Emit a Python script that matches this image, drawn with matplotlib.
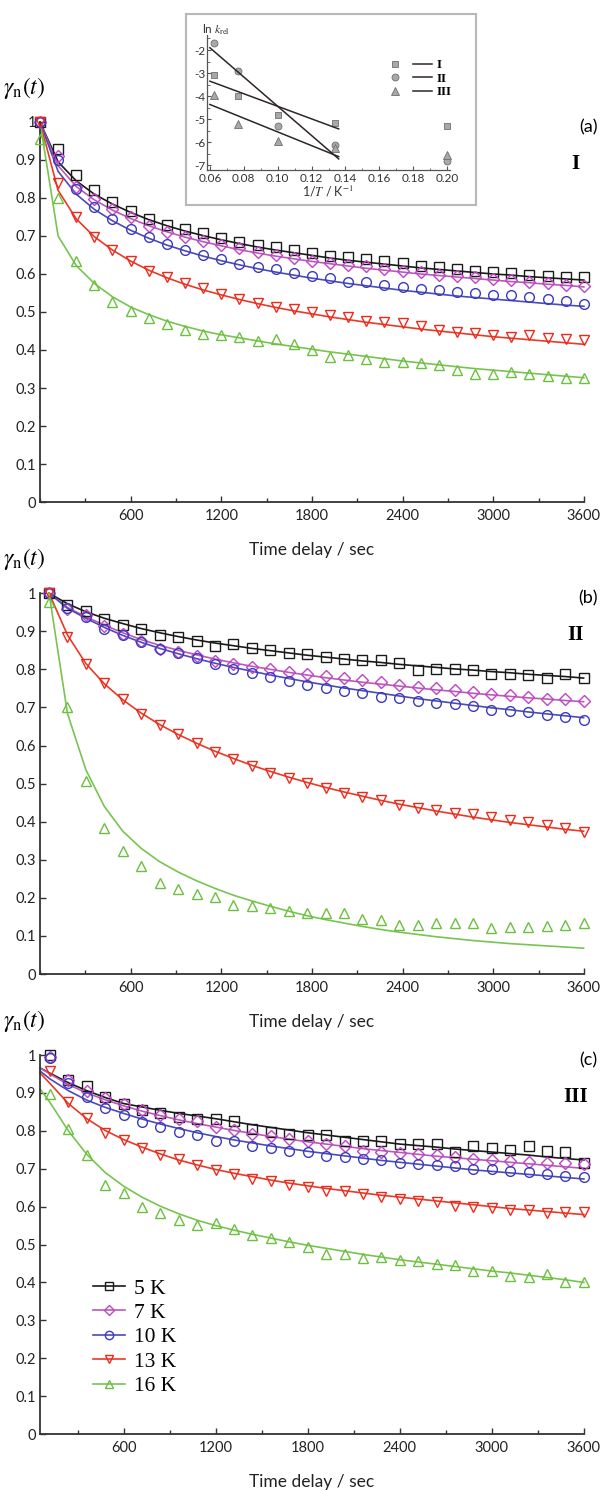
import matplotlib
matplotlib.use("Agg")
import matplotlib.pyplot as plt
from matplotlib.lines import Line2D
from matplotlib.legend_handler import HandlerTuple

plt.rcParams['font.family'] = ['Lato', 'DejaVu Sans']
plt.rcParams['mathtext.fontset'] = 'stix'
plt.rcParams['axes.unicode_minus'] = False

# ---------------- data ----------------
labels = ['5 K', '7 K', '10 K', '13 K', '16 K']
markers = ['s', 'D', 'o', 'v', '^']
mcolors = ['#1a1a1a', '#c244c6', '#3a3ac0', '#ec2a1a', '#6cc040']
lcolors = ['#1a1a1a', '#b85ab8', '#4a4ab8', '#e83a28', '#78c450']

# panel (a): sample times 0..3600 s every 120 s
t_a = [0, 120, 240, 360, 480, 600, 720, 840, 960, 1080, 1200, 1320, 1440, 1560, 1680, 1800,
       1920, 2040, 2160, 2280, 2400, 2520, 2640, 2760, 2880, 3000, 3120, 3240, 3360, 3480, 3600]
a_5K = [1.0, 0.93, 0.86, 0.82, 0.79, 0.765, 0.745, 0.73, 0.718, 0.707, 0.695, 0.685, 0.677, 0.67, 0.663, 0.655,
        0.648, 0.644, 0.64, 0.635, 0.63, 0.62, 0.618, 0.613, 0.609, 0.605, 0.603, 0.598, 0.594, 0.593, 0.592]
a_7K = [1.0, 0.91, 0.83, 0.797, 0.77, 0.749, 0.727, 0.711, 0.698, 0.688, 0.676, 0.668, 0.657, 0.65, 0.641, 0.635,
        0.629, 0.624, 0.62, 0.614, 0.609, 0.605, 0.598, 0.596, 0.592, 0.587, 0.583, 0.58, 0.577, 0.572, 0.568]
a_10K = [1.0, 0.90, 0.823, 0.777, 0.745, 0.718, 0.697, 0.679, 0.663, 0.65, 0.64, 0.627, 0.618, 0.614, 0.603, 0.596,
         0.589, 0.58, 0.579, 0.57, 0.567, 0.561, 0.557, 0.552, 0.55, 0.546, 0.544, 0.539, 0.535, 0.53, 0.522]
a_13K = [1.0, 0.84, 0.749, 0.697, 0.664, 0.635, 0.607, 0.592, 0.576, 0.563, 0.548, 0.535, 0.524, 0.513, 0.509, 0.5,
         0.491, 0.487, 0.476, 0.474, 0.47, 0.463, 0.452, 0.448, 0.445, 0.439, 0.435, 0.439, 0.432, 0.43, 0.426]
a_16K = [0.955, 0.80, 0.635, 0.572, 0.526, 0.502, 0.483, 0.469, 0.452, 0.443, 0.439, 0.434, 0.423, 0.43, 0.417, 0.40,
         0.382, 0.386, 0.376, 0.369, 0.369, 0.365, 0.36, 0.347, 0.338, 0.337, 0.343, 0.336, 0.332, 0.327, 0.327]
# fitted curves for (a), same times
a_5K_fit = [1.0, 0.895, 0.845, 0.81, 0.784, 0.762, 0.743, 0.727, 0.713, 0.701, 0.69, 0.68, 0.671, 0.663, 0.656, 0.649,
            0.642, 0.636, 0.631, 0.626, 0.621, 0.616, 0.612, 0.608, 0.604, 0.6, 0.597, 0.593, 0.59, 0.587, 0.584]
a_7K_fit = [1.0, 0.885, 0.83, 0.795, 0.768, 0.746, 0.727, 0.711, 0.697, 0.685, 0.674, 0.664, 0.655, 0.647, 0.64, 0.633,
            0.627, 0.621, 0.615, 0.61, 0.605, 0.6, 0.596, 0.592, 0.588, 0.584, 0.58, 0.577, 0.573, 0.57, 0.566]
a_10K_fit = [1.0, 0.87, 0.81, 0.77, 0.74, 0.715, 0.694, 0.676, 0.661, 0.647, 0.635, 0.624, 0.614, 0.605, 0.597, 0.589,
             0.582, 0.575, 0.569, 0.563, 0.557, 0.552, 0.547, 0.542, 0.538, 0.534, 0.53, 0.526, 0.522, 0.518, 0.515]
a_13K_fit = [1.0, 0.82, 0.745, 0.698, 0.663, 0.634, 0.61, 0.59, 0.573, 0.558, 0.545, 0.533, 0.522, 0.512, 0.503, 0.495,
             0.487, 0.48, 0.473, 0.467, 0.461, 0.455, 0.45, 0.445, 0.44, 0.435, 0.431, 0.427, 0.423, 0.419, 0.415]
a_16K_fit = [1.0, 0.70, 0.622, 0.575, 0.54, 0.513, 0.493, 0.476, 0.462, 0.45, 0.44, 0.432, 0.424, 0.416, 0.409, 0.402,
             0.395, 0.389, 0.383, 0.377, 0.371, 0.366, 0.361, 0.356, 0.351, 0.347, 0.343, 0.339, 0.335, 0.331, 0.327]

# panel (b): sample times 60..3598 s
t_b = [60, 182, 304, 426, 548, 670, 792, 914, 1036, 1158, 1280, 1402, 1524, 1646, 1768,
       1890, 2012, 2134, 2256, 2378, 2500, 2622, 2744, 2866, 2988, 3110, 3232, 3354, 3476, 3598]
b_5K = [1.0, 0.97, 0.952, 0.933, 0.917, 0.907, 0.891, 0.885, 0.874, 0.861, 0.866, 0.856, 0.85, 0.843, 0.839,
        0.832, 0.828, 0.825, 0.825, 0.817, 0.798, 0.8, 0.8, 0.798, 0.789, 0.787, 0.784, 0.776, 0.787, 0.778]
b_7K = [1.0, 0.959, 0.942, 0.915, 0.894, 0.874, 0.854, 0.846, 0.834, 0.822, 0.815, 0.806, 0.802, 0.793, 0.789,
        0.782, 0.776, 0.771, 0.767, 0.758, 0.754, 0.75, 0.745, 0.741, 0.736, 0.732, 0.728, 0.723, 0.721, 0.717]
b_10K = [1.0, 0.962, 0.937, 0.907, 0.889, 0.873, 0.854, 0.843, 0.831, 0.813, 0.802, 0.791, 0.78, 0.769, 0.758,
         0.75, 0.743, 0.738, 0.728, 0.725, 0.717, 0.712, 0.709, 0.703, 0.693, 0.691, 0.687, 0.68, 0.674, 0.668]
b_13K = [1.0, 0.885, 0.815, 0.763, 0.721, 0.684, 0.654, 0.63, 0.606, 0.584, 0.564, 0.546, 0.527, 0.514, 0.501,
         0.488, 0.475, 0.466, 0.457, 0.444, 0.435, 0.431, 0.422, 0.421, 0.412, 0.405, 0.4, 0.392, 0.383, 0.374]
b_16K = [0.976, 0.702, 0.508, 0.383, 0.322, 0.283, 0.239, 0.222, 0.211, 0.202, 0.182, 0.178, 0.174, 0.165, 0.161,
         0.161, 0.161, 0.145, 0.143, 0.13, 0.13, 0.133, 0.133, 0.133, 0.121, 0.124, 0.124, 0.127, 0.13, 0.133]
b_5K_fit = [1.0, 0.972, 0.951, 0.934, 0.92, 0.907, 0.896, 0.886, 0.877, 0.869, 0.862, 0.855, 0.849, 0.843, 0.837,
            0.832, 0.827, 0.822, 0.818, 0.813, 0.809, 0.805, 0.801, 0.798, 0.794, 0.791, 0.787, 0.784, 0.781, 0.777]
b_7K_fit = [1.0, 0.962, 0.938, 0.916, 0.896, 0.878, 0.863, 0.85, 0.838, 0.827, 0.817, 0.808, 0.8, 0.792, 0.785,
            0.778, 0.772, 0.766, 0.761, 0.756, 0.751, 0.746, 0.742, 0.737, 0.733, 0.729, 0.725, 0.722, 0.718, 0.715]
b_10K_fit = [1.0, 0.96, 0.934, 0.91, 0.889, 0.871, 0.855, 0.841, 0.828, 0.816, 0.805, 0.795, 0.785, 0.776, 0.767,
             0.759, 0.751, 0.744, 0.737, 0.73, 0.723, 0.717, 0.711, 0.705, 0.699, 0.694, 0.688, 0.683, 0.678, 0.673]
b_13K_fit = [1.0, 0.89, 0.815, 0.762, 0.72, 0.685, 0.655, 0.629, 0.606, 0.585, 0.566, 0.548, 0.532, 0.517, 0.503,
             0.49, 0.478, 0.467, 0.456, 0.446, 0.437, 0.428, 0.42, 0.412, 0.405, 0.398, 0.392, 0.386, 0.38, 0.375]
b_16K_fit = [1.0, 0.684, 0.536, 0.44, 0.375, 0.33, 0.295, 0.268, 0.245, 0.225, 0.207, 0.192, 0.178, 0.165, 0.153,
             0.143, 0.134, 0.125, 0.117, 0.11, 0.104, 0.098, 0.093, 0.088, 0.084, 0.08, 0.077, 0.074, 0.071, 0.068]

# panel (c): sample times 120..3600 s, fit starts at the axis (55 s)
t_c = [120, 240, 360, 480, 600, 720, 840, 960, 1080, 1200, 1320, 1440, 1560, 1680, 1800,
       1920, 2040, 2160, 2280, 2400, 2520, 2640, 2760, 2880, 3000, 3120, 3240, 3360, 3480, 3600]
t_c_fit = [55, 120, 240, 360, 480, 600, 720, 840, 960, 1080, 1200, 1320, 1440, 1560, 1680, 1800,
           1920, 2040, 2160, 2280, 2400, 2520, 2640, 2760, 2880, 3000, 3120, 3240, 3360, 3480, 3600]
c_5K = [1.0, 0.935, 0.917, 0.888, 0.872, 0.855, 0.848, 0.837, 0.832, 0.83, 0.825, 0.806, 0.798, 0.792, 0.789,
        0.789, 0.772, 0.774, 0.772, 0.765, 0.765, 0.765, 0.745, 0.761, 0.756, 0.75, 0.761, 0.748, 0.743, 0.715]
c_7K = [0.995, 0.935, 0.904, 0.886, 0.87, 0.855, 0.841, 0.832, 0.825, 0.81, 0.801, 0.792, 0.786, 0.779, 0.774,
        0.765, 0.761, 0.748, 0.745, 0.741, 0.739, 0.736, 0.73, 0.725, 0.723, 0.721, 0.718, 0.716, 0.714, 0.712]
c_10K = [0.993, 0.926, 0.888, 0.859, 0.843, 0.823, 0.81, 0.797, 0.788, 0.774, 0.774, 0.761, 0.756, 0.748, 0.743,
         0.734, 0.732, 0.725, 0.723, 0.716, 0.712, 0.709, 0.706, 0.698, 0.698, 0.694, 0.691, 0.685, 0.682, 0.679]
c_13K = [0.957, 0.875, 0.835, 0.795, 0.777, 0.756, 0.736, 0.725, 0.709, 0.697, 0.685, 0.674, 0.667, 0.658, 0.652,
         0.641, 0.641, 0.634, 0.625, 0.62, 0.614, 0.611, 0.602, 0.6, 0.596, 0.591, 0.59, 0.584, 0.587, 0.587]
c_16K = [0.897, 0.806, 0.736, 0.656, 0.636, 0.6, 0.584, 0.565, 0.551, 0.556, 0.54, 0.525, 0.516, 0.507, 0.493,
         0.475, 0.475, 0.465, 0.468, 0.459, 0.456, 0.449, 0.447, 0.431, 0.429, 0.418, 0.415, 0.422, 0.4, 0.4]
c_5K_fit = [0.966, 0.952, 0.927, 0.906, 0.888, 0.872, 0.863, 0.854, 0.846, 0.839, 0.832, 0.824, 0.816, 0.809, 0.802, 0.795,
            0.789, 0.783, 0.777, 0.771, 0.765, 0.761, 0.757, 0.752, 0.748, 0.744, 0.74, 0.736, 0.731, 0.727, 0.723]
c_7K_fit = [0.966, 0.95, 0.922, 0.9, 0.882, 0.866, 0.852, 0.84, 0.829, 0.819, 0.81, 0.801, 0.793, 0.785, 0.778, 0.771,
            0.765, 0.759, 0.753, 0.748, 0.743, 0.738, 0.733, 0.729, 0.725, 0.721, 0.717, 0.713, 0.709, 0.705, 0.701]
c_10K_fit = [0.958, 0.937, 0.906, 0.881, 0.862, 0.846, 0.831, 0.818, 0.806, 0.795, 0.785, 0.776, 0.768, 0.76, 0.753, 0.746,
             0.74, 0.734, 0.728, 0.722, 0.717, 0.712, 0.707, 0.702, 0.697, 0.693, 0.689, 0.685, 0.681, 0.677, 0.673]
c_13K_fit = [0.953, 0.925, 0.872, 0.832, 0.801, 0.777, 0.757, 0.739, 0.723, 0.71, 0.698, 0.688, 0.679, 0.67, 0.662, 0.655,
             0.648, 0.642, 0.636, 0.63, 0.625, 0.62, 0.615, 0.61, 0.605, 0.6, 0.595, 0.591, 0.587, 0.583, 0.579]
c_16K_fit = [0.911, 0.875, 0.8, 0.738, 0.69, 0.654, 0.625, 0.601, 0.581, 0.564, 0.55, 0.538, 0.527, 0.517, 0.507, 0.498,
             0.49, 0.482, 0.474, 0.467, 0.46, 0.454, 0.448, 0.442, 0.436, 0.43, 0.425, 0.419, 0.413, 0.407, 0.4]

# inset: ln k_rel vs 1/T
inv_T = [0.0625, 0.0765, 0.100, 0.134, 0.200]
lnk_I = [-3.1, -4.0, -4.8, -5.16, -5.3]
lnk_II = [-1.71, -2.91, -5.3, -6.1, -6.8]
lnk_III = [-3.93, -5.19, -5.96, -6.25, -6.55]
fit_x = [0.060, 0.136]
fit_I = [-3.35, -5.42]
fit_II = [-1.9, -6.72]
fit_III = [-4.36, -6.62]

y_ticks = [0, 0.1, 0.2, 0.3, 0.4, 0.5, 0.6, 0.7, 0.8, 0.9, 1.0]
y_ticklabels = ['0', '0.1', '0.2', '0.3', '0.4', '0.5', '0.6', '0.7', '0.8', '0.9', '1']
x_ticks = [600, 1200, 1800, 2400, 3000, 3600]
x_minor = [0, 300, 900, 1500, 2100, 2700, 3300]

panels = [
    dict(t=t_a, tf=t_a, data=[a_5K, a_7K, a_10K, a_13K, a_16K],
         fit=[a_5K_fit, a_7K_fit, a_10K_fit, a_13K_fit, a_16K_fit],
         xmin=0, tag='(a)', roman='I', rect=[0.0663, 0.6633, 0.902, 0.2549]),
    dict(t=t_b, tf=t_b, data=[b_5K, b_7K, b_10K, b_13K, b_16K],
         fit=[b_5K_fit, b_7K_fit, b_10K_fit, b_13K_fit, b_16K_fit],
         xmin=0, tag='(b)', roman='II', rect=[0.0663, 0.3467, 0.902, 0.2555]),
    dict(t=t_c, tf=t_c_fit, data=[c_5K, c_7K, c_10K, c_13K, c_16K],
         fit=[c_5K_fit, c_7K_fit, c_10K_fit, c_13K_fit, c_16K_fit],
         xmin=55, tag='(c)', roman='III', rect=[0.0663, 0.0382, 0.902, 0.2542]),
]

fig = plt.figure(figsize=(6.03, 14.91), dpi=100)

axes = []
for p in panels:
    ax = fig.add_axes(p['rect'])
    for i in range(5):
        ax.plot(p['tf'], p['fit'][i], '-', color=lcolors[i], lw=1.2, clip_on=False, zorder=2)
        ax.plot(p['t'], p['data'][i], linestyle='none', marker=markers[i],
                ms=7 if markers[i] != 'D' else 6, mfc='none', mec=mcolors[i], mew=1.0,
                clip_on=False, zorder=3)
    ax.set_xlim(p['xmin'], 3600)
    ax.set_ylim(0, 1)
    for s in ['top', 'right']:
        ax.spines[s].set_visible(False)
    for s in ['left', 'bottom']:
        ax.spines[s].set_color('#333333')
        ax.spines[s].set_linewidth(1.3)
    ax.set_yticks(y_ticks)
    ax.set_yticklabels(y_ticklabels)
    ax.set_xticks(x_ticks)
    ax.set_xticks([m for m in x_minor if m >= p['xmin']], minor=True)
    ax.tick_params(axis='both', which='major', direction='in', length=4, width=1.0,
                   labelsize=10.5, colors='#333333', labelcolor='#222222')
    ax.tick_params(axis='x', which='major', pad=5)
    ax.tick_params(axis='y', which='major', pad=3)
    ax.tick_params(axis='x', which='minor', direction='in', length=3, width=1.0, colors='#333333')
    ax.set_xlabel('Time delay / sec', fontsize=12.5, labelpad=14, color='#222222')
    ax.text(-0.068, 1.09, r'$\gamma_{\mathrm{n}}(t)$', transform=ax.transAxes,
            fontsize=17, ha='left', va='center')
    ax.text(1.025, 0.985, p['tag'], transform=ax.transAxes, fontsize=13, ha='right', va='center')
    ax.text(0.985, 0.89, p['roman'], transform=ax.transAxes, fontsize=15, ha='center', va='center',
            family='Liberation Serif', fontweight='bold')
    axes.append(ax)

# legend in panel (c)
handles = [Line2D([], [], color=lcolors[i], lw=1.2, marker=markers[i], mfc='none',
                  mec=mcolors[i], mew=1.0, ms=6 if markers[i] != 'D' else 5.5) for i in range(5)]
axes[2].legend(handles, labels, loc='upper left', bbox_to_anchor=(0.07, 0.45), frameon=False,
               prop={'family': 'Liberation Serif', 'size': 15.5}, handlelength=1.5,
               handletextpad=0.4, labelspacing=0.2, borderpad=0.2)

# inset frame
frame = fig.add_axes([0.309, 0.8625, 0.48, 0.128])
frame.set_xticks([])
frame.set_yticks([])
for s in frame.spines.values():
    s.set_color('#b8b8b8')
    s.set_linewidth(1.5)

ins = fig.add_axes([0.343, 0.886, 0.403, 0.0905])
grey_fc = '#a8a8a8'
grey_ec = '#6e6e6e'
line_c = '#2e2626'
h_sq, = ins.plot(inv_T, lnk_I, 's', ms=5, mfc=grey_fc, mec=grey_ec, mew=0.6, clip_on=False)
h_ci, = ins.plot(inv_T, lnk_II, 'o', ms=5, mfc=grey_fc, mec=grey_ec, mew=0.6, clip_on=False)
h_tr, = ins.plot(inv_T, lnk_III, '^', ms=5.5, mfc=grey_fc, mec=grey_ec, mew=0.6, clip_on=False)
l1, = ins.plot(fit_x, fit_I, '-', color=line_c, lw=1.1)
l2, = ins.plot(fit_x, fit_II, '-', color=line_c, lw=1.1)
l3, = ins.plot(fit_x, fit_III, '-', color=line_c, lw=1.1)
ins.set_xlim(0.0582, 0.2016)
ins.set_ylim(-7.2, -1.35)
ins.set_xticks([0.06, 0.08, 0.10, 0.12, 0.14, 0.16, 0.18, 0.20])
ins.set_xticklabels(['0.06', '0.08', '0.10', '0.12', '0.14', '0.16', '0.18', '0.20'])
ins.set_xticks([0.07, 0.09, 0.11, 0.13, 0.15, 0.17, 0.19], minor=True)
ins.set_yticks([-7, -6, -5, -4, -3, -2])
ins.set_yticks([-6.5, -5.5, -4.5, -3.5, -2.5, -1.5], minor=True)
for s in ['top', 'right']:
    ins.spines[s].set_visible(False)
for s in ['left', 'bottom']:
    ins.spines[s].set_color('#555555')
    ins.spines[s].set_linewidth(0.9)
ins.tick_params(which='both', direction='in', colors='#555555', labelcolor='#333333',
                labelsize=8.5, pad=2)
ins.tick_params(which='major', length=3)
ins.tick_params(which='minor', length=1.8)
ins.tick_params(axis='y', pad=1)
ins.set_xlabel(r'1/$T$ / K$^{-1}$', fontsize=9, labelpad=0, color='#333333')
ins.text(-0.02, 1.04, r'ln $k_{\mathrm{rel}}$', transform=ins.transAxes, fontsize=8.5,
         ha='left', va='center', color='#333333')
ins.legend([(h_sq, l1), (h_ci, l2), (h_tr, l3)], ['I', 'II', 'III'],
           handler_map={tuple: HandlerTuple(ndivide=None, pad=0.6)},
           loc='upper left', bbox_to_anchor=(0.7, 0.88), frameon=False,
           prop={'family': 'Liberation Serif', 'weight': 'bold', 'size': 9.5},
           handlelength=3.6, handletextpad=0.3, labelspacing=0.1, borderpad=0.1)

fig.savefig('out.png', dpi=100)
